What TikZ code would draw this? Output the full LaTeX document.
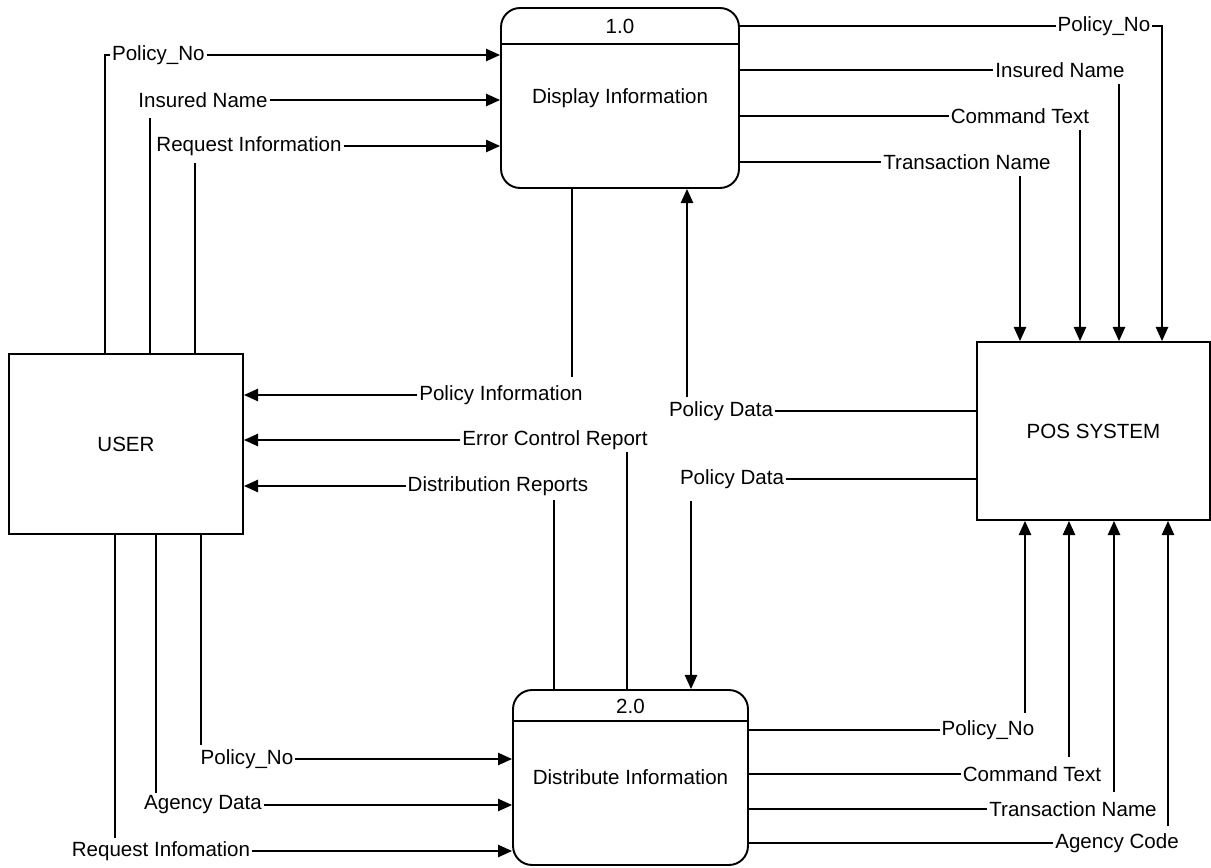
\documentclass[tikz,border=0pt]{standalone}
\usepackage{fontspec}
\setmainfont{Liberation Sans}
\usetikzlibrary{arrows.meta}
\tikzset{
  every node/.style={font=\fontsize{11.7}{14}\selectfont},
  lbl/.style={inner sep=1pt},
  extbox/.style={draw, line width=1.1pt, inner sep=0pt},
  procbox/.style={draw, line width=1.1pt, rounded corners=0.38cm, inner sep=0pt},
  flow/.style={line width=0.9pt},
  into/.style={flow, -{Triangle[length=8pt, width=7pt]}},
}
\begin{document}
\begin{tikzpicture}[x=0.02cm, y=-0.02cm]
  \useasboundingbox (0,0) rectangle (1211,868);
  \node[extbox, minimum width=4.68cm, minimum height=3.6cm] (user) at (126,444) {USER};
  \node[extbox, minimum width=4.66cm, minimum height=3.56cm] (pos) at (1093.5,431) {POS SYSTEM};
  \node[procbox, minimum width=4.76cm, minimum height=3.6cm] (disp) at (620,98) {Display Information};
  \node[procbox, minimum width=4.7cm, minimum height=3.5cm] (dist) at (630.5,777.5) {Distribute Information};
  \node (dispno) at ([yshift=-0.38cm]disp.north) {1.0};
  \node (distno) at ([yshift=-0.34cm]dist.north) {2.0};
  \draw[line width=1.1pt] ([yshift=-0.74cm]disp.north west) -- ([yshift=-0.74cm]disp.north east);
  \draw[line width=1.1pt] ([yshift=-0.64cm]dist.north west) -- ([yshift=-0.64cm]dist.north east);

  \node[lbl, anchor=west] (ulPol) at (110,55) {Policy\_No};
  \node[lbl] (ulIns) at (203,100) {Insured Name};
  \node[lbl] (ulReq) at (249,146) {Request Information};
  \coordinate (ulPolV) at (105,55);
  \coordinate (ulInsV) at (150,118);
  \coordinate (ulReqV) at (195,163);
  \draw[flow] (ulPolV |- user.north) |- (ulPol.west);
  \draw[flow] (ulInsV |- user.north) -- (ulInsV);
  \draw[flow] (ulReqV |- user.north) -- (ulReqV);
  \draw[into] (ulPol.east) -- (ulPol.east -| disp.west);
  \draw[into] (ulIns.east) -- (ulIns.east -| disp.west);
  \draw[into] (ulReq.east) -- (ulReq.east -| disp.west);

  \node[lbl] (urPol) at (1104,26) {Policy\_No};
  \node[lbl] (urIns) at (1060,70) {Insured Name};
  \node[lbl] (urCmd) at (1020,116) {Command Text};
  \node[lbl] (urTrn) at (967,162) {Transaction Name};
  \coordinate (urPolV) at (1162,26);
  \coordinate (urInsV) at (1119,84);
  \coordinate (urCmdV) at (1080,130);
  \coordinate (urTrnV) at (1020,176);
  \draw[flow] (urPol.west -| disp.east) -- (urPol.west);
  \draw[flow] (urIns.west -| disp.east) -- (urIns.west);
  \draw[flow] (urCmd.west -| disp.east) -- (urCmd.west);
  \draw[flow] (urTrn.west -| disp.east) -- (urTrn.west);
  \draw[into] (urPol.east) -| (urPolV |- pos.north);
  \draw[into] (urInsV) -- (urInsV |- pos.north);
  \draw[into] (urCmdV) -- (urCmdV |- pos.north);
  \draw[into] (urTrnV) -- (urTrnV |- pos.north);

  \node[lbl] (piLbl) at (501,395) {Policy Information};
  \node[lbl] (ecLbl) at (555,440) {Error Control Report};
  \node[lbl] (drLbl) at (498,486) {Distribution Reports};
  \coordinate (piV) at (572,377);
  \coordinate (ecV) at (627,452);
  \coordinate (drV) at (554,500);
  \draw[flow] (piV |- disp.south) -- (piV);
  \draw[flow] (ecV |- dist.north) -- (ecV);
  \draw[flow] (drV |- dist.north) -- (drV);
  \draw[into] (piLbl.west) -- (piLbl.west -| user.east);
  \draw[into] (ecLbl.west) -- (ecLbl.west -| user.east);
  \draw[into] (drLbl.west) -- (drLbl.west -| user.east);

  \node[lbl] (pdaLbl) at (721,411) {Policy Data};
  \node[lbl] (pdbLbl) at (732,479) {Policy Data};
  \coordinate (pdaV) at (687,397);
  \coordinate (pdbV) at (691,501);
  \draw[flow] (pdaLbl.east) -- (pdaLbl.east -| pos.west);
  \draw[flow] (pdbLbl.east) -- (pdbLbl.east -| pos.west);
  \draw[into] (pdaV) -- (pdaV |- disp.south);
  \draw[into] (pdbV) -- (pdbV |- dist.north);

  \node[lbl] (blPol) at (247,759) {Policy\_No};
  \node[lbl] (blAgn) at (203,805) {Agency Data};
  \node[lbl] (blReq) at (161,851) {Request Infomation};
  \coordinate (blPolV) at (201,745);
  \coordinate (blAgnV) at (156,793);
  \coordinate (blReqV) at (115,838);
  \draw[flow] (blPolV |- user.south) -- (blPolV);
  \draw[flow] (blAgnV |- user.south) -- (blAgnV);
  \draw[flow] (blReqV |- user.south) -- (blReqV);
  \draw[into] (blPol.east) -- (blPol.east -| dist.west);
  \draw[into] (blAgn.east) -- (blAgn.east -| dist.west);
  \draw[into] (blReq.east) -- (blReq.east -| dist.west);

  \node[lbl] (brPol) at (988,730) {Policy\_No};
  \node[lbl] (brCmd) at (1032,774) {Command Text};
  \node[lbl] (brTrn) at (1073,809) {Transaction Name};
  \node[lbl] (brAgc) at (1117,843) {Agency Code};
  \coordinate (brPolV) at (1025,713);
  \coordinate (brCmdV) at (1069,757);
  \coordinate (brTrnV) at (1114,792);
  \coordinate (brAgcV) at (1168,826);
  \draw[flow] (brPol.west -| dist.east) -- (brPol.west);
  \draw[flow] (brCmd.west -| dist.east) -- (brCmd.west);
  \draw[flow] (brTrn.west -| dist.east) -- (brTrn.west);
  \draw[flow] (brAgc.west -| dist.east) -- (brAgc.west);
  \draw[into] (brPolV) -- (brPolV |- pos.south);
  \draw[into] (brCmdV) -- (brCmdV |- pos.south);
  \draw[into] (brTrnV) -- (brTrnV |- pos.south);
  \draw[into] (brAgcV) -- (brAgcV |- pos.south);
\end{tikzpicture}
\end{document}
